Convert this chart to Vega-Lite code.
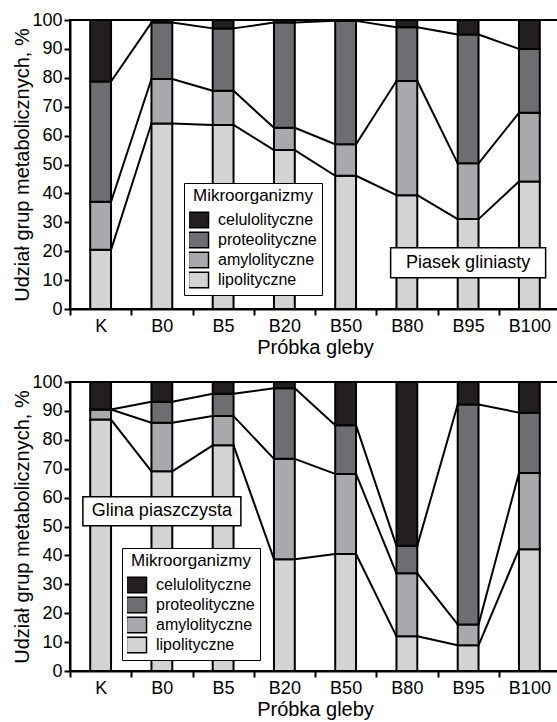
{
  "$schema": "https://vega.github.io/schema/vega-lite/v6.json",
  "padding": {"left": 11, "top": 10, "right": 0, "bottom": 0},
  "background": "white",
  "config": {
    "font": "Liberation Sans",
    "view": {"stroke": "black", "strokeWidth": 2},
    "axis": {"domainColor": "black", "domainWidth": 2, "tickColor": "black", "tickWidth": 2, "labelColor": "black", "titleColor": "black", "labelFontSize": 18, "titleFontSize": 20, "titleFontWeight": "normal", "grid": false},
    "axisY": {"tickCount": 11, "labelOverlap": false, "labelSeparation": -20, "tickSize": 6, "labelPadding": 2, "titlePadding": -1},
    "legend": {"orient": "none", "titleFontSize": 17, "titleFontWeight": "normal", "titleColor": "black", "titleAnchor": "middle", "titlePadding": 5, "labelFontSize": 16, "labelColor": "black", "labelOffset": 10, "rowPadding": 0, "clipHeight": 20, "symbolType": "M-1.18,-0.92L1.18,-0.92L1.18,0.92L-1.18,0.92Z", "symbolSize": 289, "symbolStrokeColor": "black", "symbolStrokeWidth": 1.5, "strokeColor": "black", "fillColor": "white", "padding": 5}
  },
  "data": {"values": [
    {"soil": "P", "sample": "K", "i": 0, "group": "lipolityczne", "g": 1, "value": 20.5},
    {"soil": "P", "sample": "K", "i": 0, "group": "amylolityczne", "g": 2, "value": 16.6},
    {"soil": "P", "sample": "K", "i": 0, "group": "proteolityczne", "g": 3, "value": 41.6},
    {"soil": "P", "sample": "K", "i": 0, "group": "celulolityczne", "g": 4, "value": 21.3},
    {"soil": "P", "sample": "B0", "i": 1, "group": "lipolityczne", "g": 1, "value": 64.2},
    {"soil": "P", "sample": "B0", "i": 1, "group": "amylolityczne", "g": 2, "value": 15.4},
    {"soil": "P", "sample": "B0", "i": 1, "group": "proteolityczne", "g": 3, "value": 19.5},
    {"soil": "P", "sample": "B0", "i": 1, "group": "celulolityczne", "g": 4, "value": 0.9},
    {"soil": "P", "sample": "B5", "i": 2, "group": "lipolityczne", "g": 1, "value": 63.7},
    {"soil": "P", "sample": "B5", "i": 2, "group": "amylolityczne", "g": 2, "value": 11.8},
    {"soil": "P", "sample": "B5", "i": 2, "group": "proteolityczne", "g": 3, "value": 21.6},
    {"soil": "P", "sample": "B5", "i": 2, "group": "celulolityczne", "g": 4, "value": 2.9},
    {"soil": "P", "sample": "B20", "i": 3, "group": "lipolityczne", "g": 1, "value": 55.0},
    {"soil": "P", "sample": "B20", "i": 3, "group": "amylolityczne", "g": 2, "value": 7.7},
    {"soil": "P", "sample": "B20", "i": 3, "group": "proteolityczne", "g": 3, "value": 36.4},
    {"soil": "P", "sample": "B20", "i": 3, "group": "celulolityczne", "g": 4, "value": 0.9},
    {"soil": "P", "sample": "B50", "i": 4, "group": "lipolityczne", "g": 1, "value": 46.1},
    {"soil": "P", "sample": "B50", "i": 4, "group": "amylolityczne", "g": 2, "value": 10.9},
    {"soil": "P", "sample": "B50", "i": 4, "group": "proteolityczne", "g": 3, "value": 42.7},
    {"soil": "P", "sample": "B50", "i": 4, "group": "celulolityczne", "g": 4, "value": 0.3},
    {"soil": "P", "sample": "B80", "i": 5, "group": "lipolityczne", "g": 1, "value": 39.4},
    {"soil": "P", "sample": "B80", "i": 5, "group": "amylolityczne", "g": 2, "value": 39.5},
    {"soil": "P", "sample": "B80", "i": 5, "group": "proteolityczne", "g": 3, "value": 18.6},
    {"soil": "P", "sample": "B80", "i": 5, "group": "celulolityczne", "g": 4, "value": 2.5},
    {"soil": "P", "sample": "B95", "i": 6, "group": "lipolityczne", "g": 1, "value": 31.1},
    {"soil": "P", "sample": "B95", "i": 6, "group": "amylolityczne", "g": 2, "value": 19.3},
    {"soil": "P", "sample": "B95", "i": 6, "group": "proteolityczne", "g": 3, "value": 44.6},
    {"soil": "P", "sample": "B95", "i": 6, "group": "celulolityczne", "g": 4, "value": 5.0},
    {"soil": "P", "sample": "B100", "i": 7, "group": "lipolityczne", "g": 1, "value": 44.1},
    {"soil": "P", "sample": "B100", "i": 7, "group": "amylolityczne", "g": 2, "value": 23.8},
    {"soil": "P", "sample": "B100", "i": 7, "group": "proteolityczne", "g": 3, "value": 22.1},
    {"soil": "P", "sample": "B100", "i": 7, "group": "celulolityczne", "g": 4, "value": 10.0},
    {"soil": "G", "sample": "K", "i": 0, "group": "lipolityczne", "g": 1, "value": 87.0},
    {"soil": "G", "sample": "K", "i": 0, "group": "amylolityczne", "g": 2, "value": 3.5},
    {"soil": "G", "sample": "K", "i": 0, "group": "proteolityczne", "g": 3, "value": 0.0},
    {"soil": "G", "sample": "K", "i": 0, "group": "celulolityczne", "g": 4, "value": 9.5},
    {"soil": "G", "sample": "B0", "i": 1, "group": "lipolityczne", "g": 1, "value": 69.1},
    {"soil": "G", "sample": "B0", "i": 1, "group": "amylolityczne", "g": 2, "value": 16.8},
    {"soil": "G", "sample": "B0", "i": 1, "group": "proteolityczne", "g": 3, "value": 7.3},
    {"soil": "G", "sample": "B0", "i": 1, "group": "celulolityczne", "g": 4, "value": 6.8},
    {"soil": "G", "sample": "B5", "i": 2, "group": "lipolityczne", "g": 1, "value": 78.1},
    {"soil": "G", "sample": "B5", "i": 2, "group": "amylolityczne", "g": 2, "value": 10.1},
    {"soil": "G", "sample": "B5", "i": 2, "group": "proteolityczne", "g": 3, "value": 7.7},
    {"soil": "G", "sample": "B5", "i": 2, "group": "celulolityczne", "g": 4, "value": 4.1},
    {"soil": "G", "sample": "B20", "i": 3, "group": "lipolityczne", "g": 1, "value": 38.7},
    {"soil": "G", "sample": "B20", "i": 3, "group": "amylolityczne", "g": 2, "value": 34.7},
    {"soil": "G", "sample": "B20", "i": 3, "group": "proteolityczne", "g": 3, "value": 24.4},
    {"soil": "G", "sample": "B20", "i": 3, "group": "celulolityczne", "g": 4, "value": 2.2},
    {"soil": "G", "sample": "B50", "i": 4, "group": "lipolityczne", "g": 1, "value": 40.5},
    {"soil": "G", "sample": "B50", "i": 4, "group": "amylolityczne", "g": 2, "value": 27.7},
    {"soil": "G", "sample": "B50", "i": 4, "group": "proteolityczne", "g": 3, "value": 16.8},
    {"soil": "G", "sample": "B50", "i": 4, "group": "celulolityczne", "g": 4, "value": 15.0},
    {"soil": "G", "sample": "B80", "i": 5, "group": "lipolityczne", "g": 1, "value": 12.0},
    {"soil": "G", "sample": "B80", "i": 5, "group": "amylolityczne", "g": 2, "value": 21.8},
    {"soil": "G", "sample": "B80", "i": 5, "group": "proteolityczne", "g": 3, "value": 9.5},
    {"soil": "G", "sample": "B80", "i": 5, "group": "celulolityczne", "g": 4, "value": 56.7},
    {"soil": "G", "sample": "B95", "i": 6, "group": "lipolityczne", "g": 1, "value": 8.9},
    {"soil": "G", "sample": "B95", "i": 6, "group": "amylolityczne", "g": 2, "value": 7.2},
    {"soil": "G", "sample": "B95", "i": 6, "group": "proteolityczne", "g": 3, "value": 76.1},
    {"soil": "G", "sample": "B95", "i": 6, "group": "celulolityczne", "g": 4, "value": 7.8},
    {"soil": "G", "sample": "B100", "i": 7, "group": "lipolityczne", "g": 1, "value": 42.1},
    {"soil": "G", "sample": "B100", "i": 7, "group": "amylolityczne", "g": 2, "value": 26.4},
    {"soil": "G", "sample": "B100", "i": 7, "group": "proteolityczne", "g": 3, "value": 20.9},
    {"soil": "G", "sample": "B100", "i": 7, "group": "celulolityczne", "g": 4, "value": 10.6}
  ]},
  "spacing": 14,
  "resolve": {"scale": {"color": "independent"}, "legend": {"color": "independent"}},
  "vconcat": [
    {
      "width": 490, "height": 289,
      "layer": [
        {
          "transform": [{"filter": "datum.soil === 'P'"}],
          "mark": {"type": "bar", "stroke": "black", "strokeWidth": 2},
          "encoding": {
            "x": {"field": "sample", "type": "nominal", "scale": {"domain": ["K","B0","B5","B20","B50","B80","B95","B100"], "paddingInner": 0.66, "paddingOuter": 0.33}, "axis": {"title": "Próbka gleby", "labelAngle": 0, "tickOffset": -30.625, "labelOffset": 30.625, "tickSize": 6, "labelPadding": 2, "titlePadding": 2}},
            "y": {"field": "value", "type": "quantitative", "stack": "zero", "scale": {"domain": [0, 100], "nice": false}, "axis": {"title": "Udział grup metabolicznych, %", "values": [0,10,20,30,40,50,60,70,80,90,100], "tickCount": 11, "labelOverlap": false, "labelSeparation": -20}},
            "color": {"field": "group", "type": "nominal", "scale": {"domain": ["celulolityczne","proteolityczne","amylolityczne","lipolityczne"], "range": ["#231f20","#6d6e71","#a7a9ac","#d1d3d4"]}, "legend": {"title": "Mikroorganizmy", "legendX": 114, "legendY": 163, "rowPadding": 0, "clipHeight": 20}},
            "order": {"field": "g", "type": "quantitative"}
          }
        },
        {
          "transform": [
            {"filter": "datum.soil === 'P'"},
            {"stack": "value", "groupby": ["sample"], "sort": [{"field": "g", "order": "ascending"}], "as": ["y0", "y1"]},
            {"filter": "datum.g < 4"},
            {"window": [{"op": "lead", "field": "y1", "as": "ny"}, {"op": "lead", "field": "sample", "as": "ns"}], "groupby": ["g"], "sort": [{"field": "i", "order": "ascending"}]},
            {"filter": "datum.ns != null"}
          ],
          "mark": {"type": "rule", "color": "black", "strokeWidth": 2},
          "encoding": {
            "x": {"field": "sample", "type": "nominal", "bandPosition": 1},
            "x2": {"field": "ns", "bandPosition": 0},
            "y": {"field": "y1", "type": "quantitative"},
            "y2": {"field": "ny"}
          }
        },
        {
          "data": {"values": [{}]},
          "mark": {"type": "point", "shape": "M-1,-0.194L1,-0.194L1,0.194L-1,0.194Z", "size": 24025, "filled": true, "fill": "white", "stroke": "black", "strokeWidth": 1.5, "opacity": 1},
          "encoding": {"x": {"datum": "B95", "type": "nominal", "bandPosition": 0.5}, "y": {"datum": 16, "type": "quantitative"}}
        },
        {
          "data": {"values": [{}]},
          "mark": {"type": "text", "text": "Piasek gliniasty", "fontSize": 18, "color": "black", "align": "center", "baseline": "middle"},
          "encoding": {"x": {"datum": "B95", "type": "nominal", "bandPosition": 0.5}, "y": {"datum": 16, "type": "quantitative"}}
        }
      ]
    },
    {
      "width": 490, "height": 289,
      "layer": [
        {
          "transform": [{"filter": "datum.soil === 'G'"}],
          "mark": {"type": "bar", "stroke": "black", "strokeWidth": 2},
          "encoding": {
            "x": {"field": "sample", "type": "nominal", "scale": {"domain": ["K","B0","B5","B20","B50","B80","B95","B100"], "paddingInner": 0.66, "paddingOuter": 0.33}, "axis": {"title": "Próbka gleby", "labelAngle": 0, "tickOffset": -30.625, "labelOffset": 30.625, "tickSize": 6, "labelPadding": 2, "titlePadding": 2}},
            "y": {"field": "value", "type": "quantitative", "stack": "zero", "scale": {"domain": [0, 100], "nice": false}, "axis": {"title": "Udział grup metabolicznych, %", "values": [0,10,20,30,40,50,60,70,80,90,100], "tickCount": 11, "labelOverlap": false, "labelSeparation": -20}},
            "color": {"field": "group", "type": "nominal", "scale": {"domain": ["celulolityczne","proteolityczne","amylolityczne","lipolityczne"], "range": ["#231f20","#6d6e71","#a7a9ac","#d1d3d4"]}, "legend": {"title": "Mikroorganizmy", "legendX": 52, "legendY": 166, "rowPadding": 0, "clipHeight": 20}},
            "order": {"field": "g", "type": "quantitative"}
          }
        },
        {
          "transform": [
            {"filter": "datum.soil === 'G'"},
            {"stack": "value", "groupby": ["sample"], "sort": [{"field": "g", "order": "ascending"}], "as": ["y0", "y1"]},
            {"filter": "datum.g < 4"},
            {"window": [{"op": "lead", "field": "y1", "as": "ny"}, {"op": "lead", "field": "sample", "as": "ns"}], "groupby": ["g"], "sort": [{"field": "i", "order": "ascending"}]},
            {"filter": "datum.ns != null"}
          ],
          "mark": {"type": "rule", "color": "black", "strokeWidth": 2},
          "encoding": {
            "x": {"field": "sample", "type": "nominal", "bandPosition": 1},
            "x2": {"field": "ns", "bandPosition": 0},
            "y": {"field": "y1", "type": "quantitative"},
            "y2": {"field": "ny"}
          }
        },
        {
          "data": {"values": [{}]},
          "mark": {"type": "point", "shape": "M-1,-0.184L1,-0.184L1,0.184L-1,0.184Z", "size": 24964, "filled": true, "fill": "white", "stroke": "black", "strokeWidth": 1.5, "opacity": 1},
          "encoding": {"x": {"datum": "B0", "type": "nominal", "bandPosition": 0.5}, "y": {"datum": 55.3, "type": "quantitative"}}
        },
        {
          "data": {"values": [{}]},
          "mark": {"type": "text", "text": "Glina piaszczysta", "fontSize": 18, "color": "black", "align": "center", "baseline": "middle"},
          "encoding": {"x": {"datum": "B0", "type": "nominal", "bandPosition": 0.5}, "y": {"datum": 55.3, "type": "quantitative"}}
        }
      ]
    }
  ]
}
